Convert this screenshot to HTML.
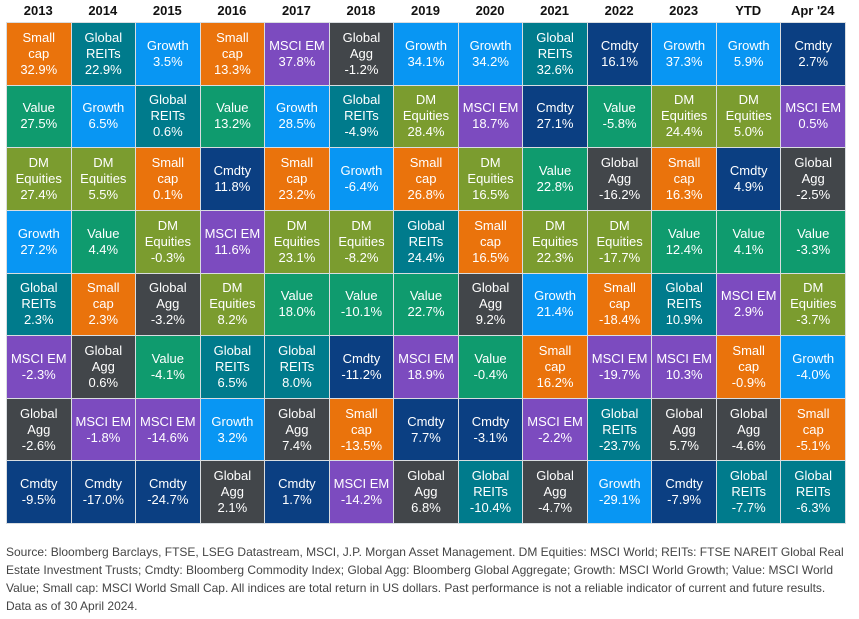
<!DOCTYPE html>
<html><head><meta charset="utf-8"><style>
body{margin:0;width:859px;height:619px;background:#fff;font-family:"Liberation Sans",sans-serif;position:relative;overflow:hidden}
.h{position:absolute;top:3px;height:18px;text-align:center;font-size:13px;font-weight:bold;color:#111}
.c{position:absolute;box-sizing:border-box;border:1px solid #d9dde0;color:#fff;font-size:13px;line-height:16px;display:flex;align-items:center;justify-content:center;text-align:center}
#note{position:absolute;left:6px;top:543px;width:850px;font-size:12px;line-height:18px;color:#444;white-space:nowrap}
</style></head><body>
<div id="grid"></div>
<div id="note">Source: Bloomberg Barclays, FTSE, LSEG Datastream, MSCI, J.P. Morgan Asset Management. DM Equities: MSCI World; REITs: FTSE NAREIT Global Real<br>Estate Investment Trusts; Cmdty: Bloomberg Commodity Index; Global Agg: Bloomberg Global Aggregate; Growth: MSCI World Growth; Value: MSCI World<br>Value; Small cap: MSCI World Small Cap. All indices are total return in US dollars. Past performance is not a reliable indicator of current and future results.<br>Data as of 30 April 2024.</div>
<script>
const years=["2013","2014","2015","2016","2017","2018","2019","2020","2021","2022","2023","YTD","Apr '24"];
const col2013=[["S",32.9],["V",27.5],["D",27.4],["G",27.2],["R",2.3],["E",-2.3],["A",-2.6],["C",-9.5]];
const col2014=[["R",22.9],["G",6.5],["D",5.5],["V",4.4],["S",2.3],["A",0.6],["E",-1.8],["C",-17.0]];
const col2015=[["G",3.5],["R",0.6],["S",0.1],["D",-0.3],["A",-3.2],["V",-4.1],["E",-14.6],["C",-24.7]];
const col2016=[["S",13.3],["V",13.2],["C",11.8],["E",11.6],["D",8.2],["R",6.5],["G",3.2],["A",2.1]];
const col2017=[["E",37.8],["G",28.5],["S",23.2],["D",23.1],["V",18.0],["R",8.0],["A",7.4],["C",1.7]];
const col2018=[["A",-1.2],["R",-4.9],["G",-6.4],["D",-8.2],["V",-10.1],["C",-11.2],["S",-13.5],["E",-14.2]];
const col2019=[["G",34.1],["D",28.4],["S",26.8],["R",24.4],["V",22.7],["E",18.9],["C",7.7],["A",6.8]];
const col2020=[["G",34.2],["E",18.7],["D",16.5],["S",16.5],["A",9.2],["V",-0.4],["C",-3.1],["R",-10.4]];
const col2021=[["R",32.6],["C",27.1],["V",22.8],["D",22.3],["G",21.4],["S",16.2],["E",-2.2],["A",-4.7]];
const col2022=[["C",16.1],["V",-5.8],["A",-16.2],["D",-17.7],["S",-18.4],["E",-19.7],["R",-23.7],["G",-29.1]];
const col2023=[["G",37.3],["D",24.4],["S",16.3],["V",12.4],["R",10.9],["E",10.3],["A",5.7],["C",-7.9]];
const colYTD=[["G",5.9],["D",5.0],["C",4.9],["V",4.1],["E",2.9],["S",-0.9],["A",-4.6],["R",-7.7]];
const colApr=[["C",2.7],["E",0.5],["A",-2.5],["V",-3.3],["D",-3.7],["G",-4.0],["S",-5.1],["R",-6.3]];
const columns=[col2013,col2014,col2015,col2016,col2017,col2018,col2019,col2020,col2021,col2022,col2023,colYTD,colApr];
const names={S:"Small<br>cap",R:"Global<br>REITs",G:"Growth",V:"Value",D:"DM<br>Equities",E:"MSCI EM",A:"Global<br>Agg",C:"Cmdty"};
const colors={S:"#ea730c",R:"#007b8c",G:"#0896f3",V:"#0f9b6e",D:"#7b9c2f",E:"#7c4bbf",A:"#42464a",C:"#0b3f82"};
const x0=6,y0=22,cw=839/13,rh=501/8;
const g=document.getElementById('grid');
years.forEach((y,i)=>{
  const h=document.createElement('div');h.className='h';
  
  
  h.style.left=(x0+i*cw)+'px';h.style.width=cw+'px';h.textContent=y;g.appendChild(h);
  columns[i].forEach((d,r)=>{
    const c=document.createElement('div');c.className='c';
    
    
    c.style.left=(x0+i*cw)+'px';c.style.top=(y0+r*rh)+'px';
    c.style.width=(cw+1)+'px';c.style.height=(rh+1)+'px';
    c.style.background=colors[d[0]];
    c.innerHTML='<div>'+names[d[0]]+'<br>'+d[1].toFixed(1)+'%</div>';
    g.appendChild(c);
  });
});
</script>
</body></html>
